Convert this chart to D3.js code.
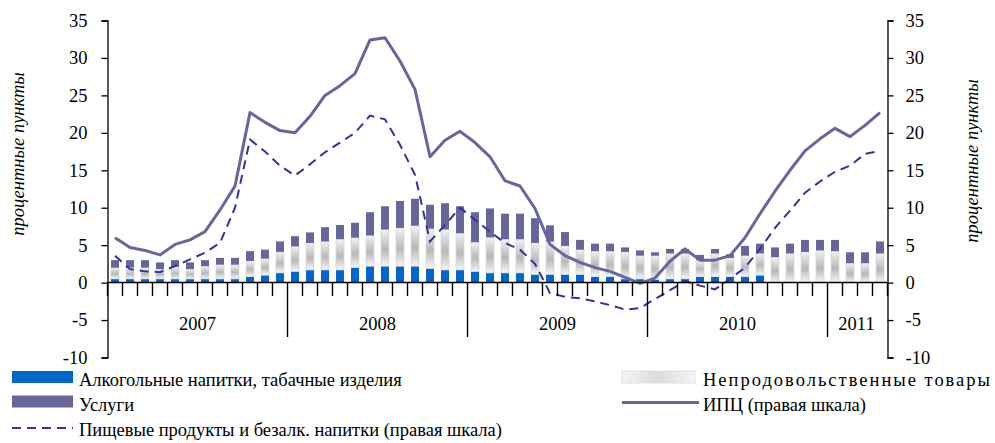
<!DOCTYPE html>
<html>
<head>
<meta charset="utf-8">
<script src="https://cdn.jsdelivr.net/npm/d3@7"></script>
<style>
  body { margin: 0; background: #fff; }
</style>
</head>
<body>
<svg id="canvas"></svg>
<script>
//--data (percentage points), Jan 2007 .. Apr 2011
const years = [2007, 2008, 2009, 2010, 2011];
const monthsInYear = [12, 12, 12, 12, 4];

const alcohol = [0.5, 0.5, 0.5, 0.5, 0.5, 0.5, 0.5, 0.5, 0.5, 0.8, 1.0, 1.3,
                 1.5, 1.7, 1.7, 1.7, 2.0, 2.2, 2.2, 2.2, 2.2, 1.9, 1.7, 1.7,
                 1.5, 1.3, 1.3, 1.3, 1.1, 1.1, 1.1, 1.1, 0.8, 0.8, 0.5, 0.5,
                 0.4, 0.5, 0.5, 0.8, 0.8, 0.8, 0.8, 1.0, 0, 0, 0, 0,
                 0, 0, 0, 0];
const nonFood = [1.5, 1.5, 1.5, 1.3, 1.6, 1.3, 1.7, 1.9, 1.9, 2.1, 2.2, 2.8,
                 3.35, 3.6, 3.8, 4.1, 4.0, 4.1, 4.9, 5.1, 5.4, 5.3, 5.4, 4.9,
                 3.9, 4.75, 4.5, 4.5, 4.2, 4.4, 3.8, 3.3, 3.4, 3.4, 3.6, 3.1,
                 3.2, 3.4, 3.4, 2.2, 3.1, 2.5, 2.8, 2.9, 3.4, 3.9, 4.1, 4.3,
                 4.2, 2.6, 2.6, 3.9];
const services = [1.0, 1.0, 1.0, 0.9, 0.9, 0.9, 0.8, 0.9, 0.9, 1.3, 1.2, 1.4,
                  1.35, 1.4, 1.9, 1.9, 2.0, 3.1, 3.1, 3.6, 3.6, 3.2, 3.5, 3.6,
                  4.0, 3.85, 3.4, 3.4, 3.3, 2.15, 1.85, 1.3, 1.0, 1.0, 0.6, 0.7,
                  0.45, 0.6, 0.6, 0.7, 0.6, 0.5, 1.3, 1.3, 1.3, 1.3, 1.6, 1.4,
                  1.5, 1.45, 1.45, 1.6];
const cpi = [6.0, 4.7, 4.3, 3.7, 5.1, 5.7, 6.8, 9.7, 12.9, 22.7, 21.4, 20.3,
             20.0, 22.2, 25.0, 26.3, 27.9, 32.4, 32.7, 29.6, 25.8, 16.8, 19.0, 20.2,
             18.7, 16.8, 13.6, 12.9, 9.9, 5.1, 3.6, 2.7, 2.0, 1.5, 0.7, -0.1,
             0.6, 2.85, 4.5, 3.0, 3.0, 3.6, 6.0, 9.2, 12.2, 15.0, 17.6, 19.2,
             20.6, 19.5, 21.0, 22.7];
const food = [3.6, 1.8, 1.5, 1.4, 2.2, 3.1, 4.0, 5.3, 10.0, 19.1, 17.5, 15.6,
              14.3, 15.8, 17.4, 18.7, 20.0, 22.3, 21.8, 18.4, 14.4, 5.5, 7.7, 10.0,
              8.4, 6.8, 5.3, 4.4, 2.5, -1.4, -1.9, -2.1, -2.5, -3.0, -3.6, -3.4,
              -2.2, -1.0, 0.2, -0.4, -0.9, 0.5, 2.0, 4.5, 7.3, 9.6, 12.0, 13.5,
              14.8, 15.6, 17.2, 17.6];
const yTicks = [-10, -5, 0, 5, 10, 15, 20, 25, 30, 35];
//--

//--canvas
let width = 995;
let height = 443;
let plotLeft = 107.5, plotRight = 887.5, plotTop = 20.5, plotBottom = 357.5;
const serif = '"Liberation Serif", "Times New Roman", serif';
const fontSize = "18.5px";

let canvas = d3.select("#canvas").attr("width", width).attr("height", height);

let defs = canvas.append("defs");
let grad = defs.append("linearGradient").attr("id", "grayBar")
    .attr("x1", 0).attr("y1", 0).attr("x2", 0).attr("y2", 1);
grad.append("stop").attr("offset", "0%").attr("stop-color", "#f2f2f2");
grad.append("stop").attr("offset", "55%").attr("stop-color", "#b8b8b8");
grad.append("stop").attr("offset", "100%").attr("stop-color", "#f6f6f6");
let gradH = defs.append("linearGradient").attr("id", "grayLegend")
    .attr("x1", 0).attr("y1", 0).attr("x2", 1).attr("y2", 0);
gradH.append("stop").attr("offset", "0%").attr("stop-color", "#f4f4f4");
gradH.append("stop").attr("offset", "50%").attr("stop-color", "#dcdcdc");
gradH.append("stop").attr("offset", "100%").attr("stop-color", "#f4f4f4");
//--

//--scales
let months = [];
years.forEach((yr, i) => {
    for (let m = 1; m <= monthsInYear[i]; m++) months.push(yr + "-" + m);
});

let x = d3.scaleBand().domain(months).range([plotLeft, plotRight]).paddingInner(0.47).paddingOuter(0.235);
let step = (plotRight - plotLeft) / months.length;
let xc = d => x(d) + x.bandwidth() / 2;
let y = d3.scaleLinear().domain([-10, 35]).range([plotBottom, plotTop]);
let yRight = d3.scaleLinear().domain([-10, 35]).range([plotBottom, plotTop]);
//--

//--bars
let rows = months.map((m, i) => ({ month: m, alcohol: alcohol[i], nonFood: nonFood[i], services: services[i] }));
let stack = d3.stack().keys(["alcohol", "nonFood", "services"])(rows);
let fills = { alcohol: "#0066cc", nonFood: "url(#grayBar)", services: "#666699" };

stack.forEach(layer => {
    canvas.append("g").selectAll("rect")
        .data(layer)
        .enter()
        .append("rect")
        .attr("x", d => x(d.data.month))
        .attr("width", x.bandwidth())
        .attr("y", d => y(d[1]))
        .attr("height", d => Math.max(0, y(d[0]) - y(d[1])))
        .attr("fill", fills[layer.key])
        .attr("stroke", layer.key === "nonFood" ? "#d6d6d6" : "none")
        .attr("stroke-width", 0.8);
});
//--

//--lines
let foodLine = d3.line().x((d, i) => xc(months[i])).y(d => yRight(d));
canvas.append("path").datum(food)
    .attr("d", foodLine)
    .attr("fill", "none")
    .attr("stroke", "#333399")
    .attr("stroke-width", 2)
    .attr("stroke-dasharray", "9,6");

canvas.append("path").datum(cpi)
    .attr("d", foodLine)
    .attr("fill", "none")
    .attr("stroke", "#66669e")
    .attr("stroke-width", 3)
    .attr("stroke-linejoin", "round");
//--

//--axes
let axL = canvas.append("g").attr("transform", `translate(${plotLeft},0)`)
    .call(d3.axisLeft(y).tickValues(yTicks).tickFormat(d => String(d))
        .tickSize(6).tickSizeOuter(6).tickPadding(14));
let axR = canvas.append("g").attr("transform", `translate(${plotRight},0)`)
    .call(d3.axisRight(yRight).tickValues(yTicks).tickFormat(d => String(d))
        .tickSize(6).tickSizeOuter(6).tickPadding(12));
[axL, axR].forEach(a => {
    a.selectAll("path, line").attr("stroke", "#000").attr("stroke-width", 1.3);
    a.selectAll("text").attr("fill", "#000")
        .style("font-family", serif).style("font-size", fontSize);
});

// zero line with month ticks and year dividers
canvas.append("line")
    .attr("x1", plotLeft).attr("x2", plotRight).attr("y1", y(0)).attr("y2", y(0))
    .attr("stroke", "#000").attr("stroke-width", 1.5);

let bounds = d3.range(months.length + 1);
canvas.append("g").selectAll("line")
    .data(bounds)
    .enter()
    .append("line")
    .attr("x1", d => plotLeft + d * step).attr("x2", d => plotLeft + d * step)
    .attr("y1", y(0))
    .attr("y2", d => months[d] && months[d].endsWith("-1") && d > 0 ? 337 : y(0) + 13.5)
    .attr("stroke", "#000").attr("stroke-width", 1.4);

let yearStart = 0;
let yearMid = [];
monthsInYear.forEach(n => { yearMid.push(plotLeft + (yearStart + n / 2) * step); yearStart += n; });
canvas.append("g").selectAll("text")
    .data(years)
    .enter()
    .append("text")
    .attr("x", (d, i) => yearMid[i] - (i === 4 ? 1 : 0))
    .attr("y", 330)
    .attr("text-anchor", "middle")
    .style("font-family", serif).style("font-size", fontSize)
    .text(d => d);

canvas.append("text")
    .attr("transform", "translate(24,154) rotate(-90)")
    .attr("text-anchor", "middle")
    .style("font-family", serif).style("font-size", fontSize).style("font-style", "italic")
    .text("процентные пункты");
canvas.append("text")
    .attr("transform", "translate(978,161) rotate(-90)")
    .attr("text-anchor", "middle")
    .style("font-family", serif).style("font-size", fontSize).style("font-style", "italic")
    .text("процентные пункты");
//--

//--legend
let legend = canvas.append("g").style("font-family", serif).style("font-size", fontSize);
legend.append("rect").attr("x", 12).attr("y", 371).attr("width", 61).attr("height", 12).attr("fill", "#0066cc");
legend.append("text").attr("x", 79).attr("y", 386).text("Алкогольные напитки, табачные изделия");
legend.append("rect").attr("x", 12).attr("y", 395.5).attr("width", 61).attr("height", 12).attr("fill", "#666699");
legend.append("text").attr("x", 79).attr("y", 411).text("Услуги");
legend.append("line").attr("x1", 12).attr("x2", 73).attr("y1", 428).attr("y2", 428)
    .attr("stroke", "#333399").attr("stroke-width", 2).attr("stroke-dasharray", "9,6");
legend.append("text").attr("x", 79).attr("y", 436).text("Пищевые продукты и безалк. напитки (правая шкала)");

legend.append("rect").attr("x", 622).attr("y", 371).attr("width", 73).attr("height", 12)
    .attr("fill", "url(#grayLegend)").attr("stroke", "#e0e0e0");
legend.append("text").attr("x", 703).attr("y", 386).attr("textLength", 287).text("Непродовольственные товары");
legend.append("line").attr("x1", 622).attr("x2", 699).attr("y1", 402.5).attr("y2", 402.5)
    .attr("stroke", "#66669e").attr("stroke-width", 3);
legend.append("text").attr("x", 703).attr("y", 411).text("ИПЦ (правая шкала)");
//--
</script>
</body>
</html>
